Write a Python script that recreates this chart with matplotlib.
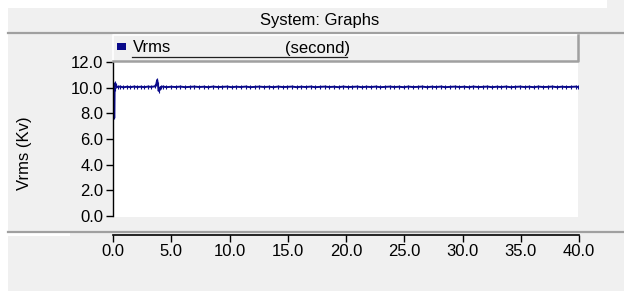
import matplotlib.pyplot as plt
from matplotlib.patches import Rectangle
from matplotlib.lines import Line2D

plt.rcParams['font.family'] = ['Liberation Sans', 'DejaVu Sans']

W, H = 624, 291

# Vrms (kV) against time (s)
time_s = [0.12, 0.14, 0.18, 0.22, 0.3, 0.4, 0.6, 0.9, 1.2, 1.5, 1.8, 2.1,
          2.4, 2.7, 3.0, 3.3, 3.6, 3.72, 3.8, 3.86, 3.92, 4.0, 4.1, 4.3,
          4.6, 5.0, 5.4, 5.8, 6.2, 6.6, 7.0, 7.4, 7.8, 8.2, 8.6, 9.0,
          9.4, 9.8, 10.2, 10.6, 11.0, 11.4, 11.8, 12.2, 12.6, 13.0, 13.4, 13.8,
          14.2, 14.6, 15.0, 15.4, 15.8, 16.2, 16.6, 17.0, 17.4, 17.8, 18.2, 18.6,
          19.0, 19.4, 19.8, 20.2, 20.6, 21.0, 21.4, 21.8, 22.2, 22.6, 23.0, 23.4,
          23.8, 24.2, 24.6, 25.0, 25.4, 25.8, 26.2, 26.6, 27.0, 27.4, 27.8, 28.2,
          28.6, 29.0, 29.4, 29.8, 30.2, 30.6, 31.0, 31.4, 31.8, 32.2, 32.6, 33.0,
          33.4, 33.8, 34.2, 34.6, 35.0, 35.4, 35.8, 36.2, 36.6, 37.0, 37.4, 37.8,
          38.2, 38.6, 39.0, 39.4, 39.8, 40.0]
vrms_kv = [7.7, 9.9, 10.35, 10.2, 10.1, 10.05, 10.08, 10.03, 10.07, 10.04, 10.08, 10.05,
           10.07, 10.04, 10.08, 10.06, 10.1, 10.25, 10.6, 10.3, 9.75, 9.95, 10.05, 10.08,
           10.04, 10.07, 10.05, 10.08, 10.04, 10.06, 10.08, 10.05, 10.07, 10.04, 10.08, 10.05,
           10.06, 10.08, 10.04, 10.07, 10.05, 10.08, 10.04, 10.06, 10.08, 10.05, 10.07, 10.04,
           10.08, 10.05, 10.06, 10.08, 10.04, 10.07, 10.05, 10.08, 10.04, 10.06, 10.08, 10.05,
           10.07, 10.04, 10.08, 10.05, 10.06, 10.08, 10.04, 10.07, 10.05, 10.08, 10.04, 10.06,
           10.08, 10.05, 10.07, 10.04, 10.08, 10.05, 10.06, 10.08, 10.04, 10.07, 10.05, 10.08,
           10.04, 10.06, 10.08, 10.05, 10.07, 10.04, 10.08, 10.05, 10.06, 10.08, 10.04, 10.07,
           10.05, 10.08, 10.04, 10.06, 10.08, 10.05, 10.07, 10.04, 10.08, 10.05, 10.06, 10.08,
           10.04, 10.07, 10.05, 10.06, 10.08, 10.05]
y_ticks = [0, 2, 4, 6, 8, 10, 12]
x_ticks = [0, 5, 10, 15, 20, 25, 30, 35, 40]

LINE = '#0a0a8a'
BG = '#f0f0f0'
EDGE = '#a0a0a0'


def fx(x):
    return x / W


def fy(y):
    return 1 - y / H


fig = plt.figure(figsize=(W / 100, H / 100), dpi=100)
fig.patch.set_facecolor(BG)

# white frame strips on the left and top
fig.patches.append(Rectangle((0, 0), fx(8), 1, transform=fig.transFigure,
                             facecolor='white', edgecolor='none'))
fig.patches.append(Rectangle((fx(8), fy(8)), fx(599), fy(0) - fy(8), transform=fig.transFigure,
                             facecolor='white', edgecolor='none'))

# header
fig.text(fx(320), fy(20), 'System: Graphs', ha='center', va='center', fontsize=12)
fig.lines.append(Line2D([fx(8), 1], [fy(32.5), fy(32.5)], transform=fig.transFigure,
                        color=EDGE, lw=1.6))

# legend box (raised look)
lx0, lx1, ly0, ly1 = 113, 578, 35, 61
fig.patches.append(Rectangle((fx(lx0), fy(ly1)), fx(lx1 - lx0), fy(ly0) - fy(ly1),
                             transform=fig.transFigure, facecolor=BG, edgecolor='none'))
fig.lines.append(Line2D([fx(lx0), fx(lx0), fx(lx1)], [fy(ly1), fy(ly0), fy(ly0)],
                        transform=fig.transFigure, color='white', lw=1.2))
fig.lines.append(Line2D([fx(lx0), fx(lx1), fx(lx1)], [fy(ly1), fy(ly1), fy(ly0)],
                        transform=fig.transFigure, color=EDGE, lw=1.8))
fig.patches.append(Rectangle((fx(117), fy(50)), fx(9), fy(43) - fy(50),
                             transform=fig.transFigure, facecolor=LINE, edgecolor='none'))
fig.text(fx(133), fy(48), 'Vrms', ha='left', va='center', fontsize=12)
fig.text(fx(285), fy(48), '(second)', ha='left', va='center', fontsize=12)
fig.lines.append(Line2D([fx(132), fx(347)], [fy(56.5), fy(56.5)],
                        transform=fig.transFigure, color='#202020', lw=0.9))

# main plot area
ax = fig.add_axes([fx(113), fy(217), fx(578 - 113), fy(62) - fy(217)])
ax.set_facecolor('white')
ax.plot(time_s, vrms_kv, color=LINE, lw=1.4, marker='|', ms=3.5, mew=0.8)
ax.set_xlim(0, 40)
ax.set_ylim(-0.08, 12)
for s in ['top', 'right', 'bottom']:
    ax.spines[s].set_visible(False)
ax.spines['left'].set_bounds(0, 12)
ax.spines['left'].set_linewidth(1.0)
ax.set_xticks([])
ax.set_yticks(y_ticks)
ax.set_yticklabels(['%.1f' % v for v in y_ticks], fontsize=12)
ax.tick_params(axis='y', direction='out', length=5, width=1, pad=2)
fig.text(fx(25), fy(153), 'Vrms (Kv)', rotation=90, ha='center', va='center', fontsize=12)

# separator and x axis below it
fig.lines.append(Line2D([fx(8), 1], [fy(232), fy(232)], transform=fig.transFigure,
                        color=EDGE, lw=1.6))
fig.patches.append(Rectangle((fx(8), fy(236)), fx(62), fy(233) - fy(236),
                             transform=fig.transFigure, facecolor='white', edgecolor='none'))
axx = fig.add_axes([fx(113), fy(234.5), fx(579 - 113), 0.0001])
axx.patch.set_visible(False)
for s in ['top', 'right', 'left']:
    axx.spines[s].set_visible(False)
axx.spines['bottom'].set_linewidth(1.2)
axx.set_xlim(0, 40)
axx.set_yticks([])
axx.set_xticks(x_ticks)
axx.set_xticklabels(['%.1f' % v for v in x_ticks], fontsize=12)
axx.tick_params(axis='x', direction='out', length=5, width=1, pad=2)

fig.savefig('out.png', dpi=100, facecolor=fig.get_facecolor())
